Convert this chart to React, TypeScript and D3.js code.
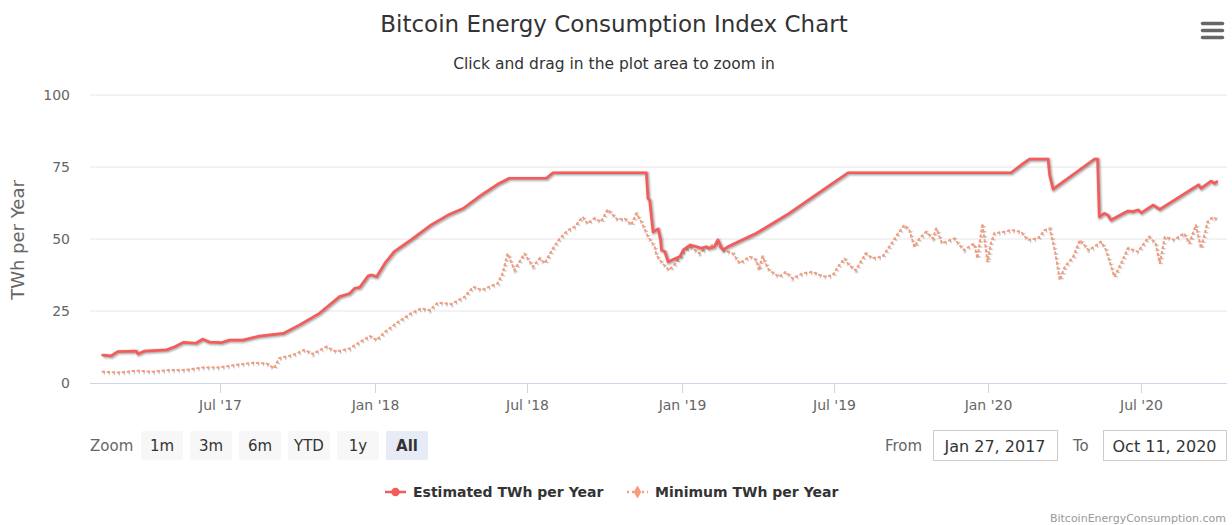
import React, { useEffect, useRef } from "react";
import * as d3 from "d3";

// Estimated TWh per Year
const estimatedSeries: [string, number][] = [
  ["2017-02-11", 9.7], ["2017-02-21", 9.4], ["2017-03-01", 10.9], ["2017-03-23", 11.1],
  ["2017-03-25", 10.1], ["2017-04-02", 11.1], ["2017-04-28", 11.5], ["2017-05-08", 12.6],
  ["2017-05-18", 14.1], ["2017-06-02", 13.8], ["2017-06-10", 15.2], ["2017-06-18", 14.2],
  ["2017-07-02", 14.0], ["2017-07-12", 14.9], ["2017-07-28", 14.9], ["2017-08-17", 16.3],
  ["2017-09-14", 17.2], ["2017-10-03", 20.1], ["2017-10-27", 24.2], ["2017-11-20", 30.0],
  ["2017-12-02", 31.1], ["2017-12-08", 32.9], ["2017-12-14", 33.2], ["2017-12-24", 37.2],
  ["2017-12-28", 37.5], ["2018-01-03", 36.9], ["2018-01-13", 41.6], ["2018-01-24", 45.6],
  ["2018-02-13", 49.7], ["2018-03-09", 54.9], ["2018-03-29", 58.3], ["2018-04-16", 60.6],
  ["2018-05-08", 65.3], ["2018-05-27", 69.0], ["2018-06-10", 71.1], ["2018-07-24", 71.1],
  ["2018-08-01", 73.0], ["2018-11-20", 73.0], ["2018-11-22", 64.1], ["2018-11-24", 63.5],
  ["2018-11-28", 52.5], ["2018-12-04", 53.5], ["2018-12-07", 49.7], ["2018-12-08", 46.2],
  ["2018-12-12", 45.6], ["2018-12-16", 42.1], ["2018-12-30", 43.9], ["2019-01-03", 46.2],
  ["2019-01-11", 47.9], ["2019-01-19", 47.3], ["2019-01-24", 46.8], ["2019-01-30", 47.3],
  ["2019-02-03", 46.8], ["2019-02-09", 47.3], ["2019-02-13", 49.7], ["2019-02-17", 47.3],
  ["2019-02-19", 46.2], ["2019-02-25", 47.3], ["2019-03-31", 52.0], ["2019-05-09", 58.9],
  ["2019-06-18", 67.0], ["2019-07-18", 73.0], ["2020-01-28", 73.0], ["2020-02-09", 75.7],
  ["2020-02-19", 77.7], ["2020-03-12", 77.7], ["2020-03-14", 72.2], ["2020-03-18", 67.3],
  ["2020-05-06", 77.7], ["2020-05-10", 77.7], ["2020-05-12", 57.7], ["2020-05-18", 58.9],
  ["2020-05-22", 58.3], ["2020-05-26", 56.6], ["2020-06-15", 59.7], ["2020-06-21", 59.5],
  ["2020-06-27", 60.1], ["2020-07-01", 59.1], ["2020-07-15", 61.8], ["2020-07-23", 60.3],
  ["2020-09-07", 68.8], ["2020-09-10", 67.6], ["2020-09-22", 70.1], ["2020-09-26", 69.3],
  ["2020-09-29", 69.9],
];

// Minimum TWh per Year
const minimumSeries: [string, number][] = [
  ["2017-02-11", 3.9], ["2017-03-03", 3.6], ["2017-03-23", 4.3], ["2017-04-11", 3.9],
  ["2017-05-01", 4.5], ["2017-05-21", 4.5], ["2017-06-10", 5.4], ["2017-06-30", 5.4],
  ["2017-07-20", 6.3], ["2017-08-09", 7.0], ["2017-08-25", 6.8], ["2017-09-03", 5.1],
  ["2017-09-09", 8.6], ["2017-09-25", 9.7], ["2017-10-09", 11.5], ["2017-10-19", 10.1],
  ["2017-11-04", 12.6], ["2017-11-16", 10.9], ["2017-12-02", 12.0], ["2017-12-18", 14.9],
  ["2017-12-26", 16.3], ["2018-01-03", 14.9], ["2018-01-13", 17.8], ["2018-01-29", 21.3],
  ["2018-02-13", 24.2], ["2018-02-25", 25.9], ["2018-03-07", 25.3], ["2018-03-17", 27.9],
  ["2018-04-02", 27.4], ["2018-04-18", 30.0], ["2018-04-28", 33.4], ["2018-05-08", 32.3],
  ["2018-05-27", 34.6], ["2018-06-02", 38.1], ["2018-06-08", 45.0], ["2018-06-16", 39.2],
  ["2018-06-28", 45.0], ["2018-07-08", 40.4], ["2018-07-16", 43.3], ["2018-07-22", 41.6],
  ["2018-08-01", 46.8], ["2018-08-09", 50.2], ["2018-08-19", 53.1], ["2018-08-27", 54.3],
  ["2018-09-05", 57.7], ["2018-09-11", 55.4], ["2018-09-19", 57.2], ["2018-09-27", 56.0],
  ["2018-10-05", 60.3], ["2018-10-17", 56.6], ["2018-10-25", 57.2], ["2018-11-02", 54.9],
  ["2018-11-08", 58.9], ["2018-11-14", 56.0], ["2018-11-22", 50.8], ["2018-11-30", 47.3],
  ["2018-12-02", 44.4], ["2018-12-09", 41.6], ["2018-12-17", 39.2], ["2018-12-25", 41.6],
  ["2019-01-03", 45.6], ["2019-01-11", 47.3], ["2019-01-22", 45.0], ["2019-01-30", 46.8],
  ["2019-02-11", 48.5], ["2019-02-19", 46.2], ["2019-03-03", 45.0], ["2019-03-11", 41.6],
  ["2019-03-23", 43.9], ["2019-03-31", 42.7], ["2019-04-03", 39.2], ["2019-04-07", 43.9],
  ["2019-04-15", 39.2], ["2019-04-27", 36.9], ["2019-05-05", 38.6], ["2019-05-13", 36.3],
  ["2019-05-25", 38.1], ["2019-06-06", 38.6], ["2019-06-14", 37.5], ["2019-06-22", 36.9],
  ["2019-06-30", 37.5], ["2019-07-06", 40.4], ["2019-07-14", 43.3], ["2019-07-19", 41.0],
  ["2019-07-27", 39.2], ["2019-08-08", 45.0], ["2019-08-16", 43.3], ["2019-08-28", 43.9],
  ["2019-09-05", 47.3], ["2019-09-13", 50.8], ["2019-09-23", 54.9], ["2019-09-29", 53.1],
  ["2019-10-05", 47.3], ["2019-10-11", 50.2], ["2019-10-19", 52.5], ["2019-10-27", 50.2],
  ["2019-10-31", 53.7], ["2019-11-07", 48.5], ["2019-11-21", 50.2], ["2019-12-03", 46.2],
  ["2019-12-15", 48.5], ["2019-12-19", 43.3], ["2019-12-25", 55.4], ["2019-12-31", 42.1],
  ["2020-01-04", 48.5], ["2020-01-08", 52.0], ["2020-01-20", 52.5], ["2020-01-28", 53.1],
  ["2020-02-09", 52.5], ["2020-02-17", 49.7], ["2020-02-29", 50.2], ["2020-03-08", 53.1],
  ["2020-03-14", 53.7], ["2020-03-20", 46.2], ["2020-03-26", 35.8], ["2020-04-01", 40.4],
  ["2020-04-11", 43.9], ["2020-04-19", 49.7], ["2020-04-29", 46.2], ["2020-05-06", 47.3],
  ["2020-05-14", 49.1], ["2020-05-20", 46.2], ["2020-05-30", 36.9], ["2020-06-07", 41.6],
  ["2020-06-15", 46.8], ["2020-06-27", 45.6], ["2020-07-10", 50.8], ["2020-07-18", 48.5],
  ["2020-07-23", 41.6], ["2020-07-29", 50.8], ["2020-08-09", 49.7], ["2020-08-21", 52.0],
  ["2020-08-27", 48.5], ["2020-09-04", 54.9], ["2020-09-10", 46.8], ["2020-09-18", 56.0],
  ["2020-09-24", 57.7], ["2020-09-30", 56.6],
];

const yTicks = [0, 25, 50, 75, 100];
const xTicks = ["2017-07-01", "2018-01-01", "2018-07-01", "2019-01-01", "2019-07-01", "2020-01-01", "2020-07-01"];
const zoomButtons = ["1m", "3m", "6m", "YTD", "1y", "All"];
const rangeStart = "2017-01-27";
const rangeEnd = "2020-10-11";
const seriesNames = ["Estimated TWh per Year", "Minimum TWh per Year"];
const seriesColors = ["#f45b5b", "#f79a7a"];

const FONT = "'DejaVu Sans', sans-serif";
const W = 1232;
const H = 525;

export default function App() {
  const svgRef = useRef<SVGSVGElement | null>(null);

  useEffect(() => {
    if (!svgRef.current) return;
    const svg = d3.select(svgRef.current);
    svg.selectAll("*").remove();

    const parse = d3.timeParse("%Y-%m-%d");
    const fmtTick = d3.timeFormat("%b '%y");
    const fmtRange = d3.timeFormat("%b %d, %Y");

    const plot = { left: 90, right: 1227, top: 95, bottom: 383 };
    const x = d3.scaleTime()
      .domain([parse(rangeStart)!, parse(rangeEnd)!])
      .range([plot.left, plot.right]);
    const y = d3.scaleLinear().domain([0, 100]).range([plot.bottom, plot.top]);

    svg.append("rect").attr("width", W).attr("height", H).attr("fill", "#fff");

    // title + subtitle
    svg.append("text")
      .attr("x", 614).attr("y", 32)
      .attr("text-anchor", "middle")
      .attr("fill", "#333")
      .style("font-size", "23px")
      .text("Bitcoin Energy Consumption Index Chart");
    svg.append("text")
      .attr("x", 614).attr("y", 69)
      .attr("text-anchor", "middle")
      .attr("fill", "#333")
      .style("font-size", "15.5px")
      .text("Click and drag in the plot area to zoom in");

    // export menu icon
    const menu = svg.append("g").attr("transform", "translate(1201,22)");
    [0, 7, 14].forEach((dy) => {
      menu.append("line")
        .attr("x1", 1.5).attr("x2", 21.5)
        .attr("y1", dy + 1.5).attr("y2", dy + 1.5)
        .attr("stroke", "#666").attr("stroke-width", 3.5)
        .attr("stroke-linecap", "round");
    });

    // gridlines
    svg.append("g").selectAll("line")
      .data(yTicks.filter((t) => t > 0))
      .enter().append("line")
      .attr("x1", plot.left).attr("x2", plot.right)
      .attr("y1", (d) => y(d)).attr("y2", (d) => y(d))
      .attr("stroke", "#e6e6e6").attr("stroke-width", 1);

    // y labels
    svg.append("g").selectAll("text")
      .data(yTicks)
      .enter().append("text")
      .attr("x", 70).attr("y", (d) => y(d) + 5)
      .attr("text-anchor", "end")
      .attr("fill", "#666")
      .style("font-size", "14px")
      .text((d) => d);

    svg.append("text")
      .attr("transform", `translate(24,${(plot.top + plot.bottom) / 2 + 1}) rotate(-90)`)
      .attr("text-anchor", "middle")
      .attr("fill", "#666")
      .style("font-size", "18px")
      .text("TWh per Year");

    // x axis
    svg.append("line")
      .attr("x1", plot.left).attr("x2", plot.right)
      .attr("y1", plot.bottom + 0.5).attr("y2", plot.bottom + 0.5)
      .attr("stroke", "#ccd6eb");
    const xt = svg.append("g").selectAll("g")
      .data(xTicks.map((d) => parse(d)!))
      .enter().append("g")
      .attr("transform", (d) => `translate(${Math.round(x(d)) + 0.5},0)`);
    xt.append("line")
      .attr("y1", plot.bottom).attr("y2", plot.bottom + 10)
      .attr("stroke", "#ccd6eb");
    xt.append("text")
      .attr("y", plot.bottom + 27)
      .attr("text-anchor", "middle")
      .attr("fill", "#666")
      .style("font-size", "14px")
      .text((d) => fmtTick(d));

    // series
    const toPts = (s: [string, number][]) => s.map(([d, v]) => [parse(d)!, v] as [Date, number]);
    const line = d3.line<[Date, number]>().x((d) => x(d[0])).y((d) => y(d[1]));
    const drawSeries = (data: [Date, number][], color: string, width: number, dash?: string) => {
      const g = svg.append("g");
      const sh = g.append("g").attr("transform", "translate(1,1)");
      [[width + 4, 0.05], [width + 2, 0.1], [width, 0.15]].forEach(([w, o]) => {
        sh.append("path")
          .attr("d", line(data))
          .attr("fill", "none")
          .attr("stroke", "#000")
          .attr("stroke-opacity", o)
          .attr("stroke-width", w)
          .attr("stroke-linejoin", "round")
          .attr("stroke-dasharray", dash || null);
      });
      g.append("path")
        .attr("d", line(data))
        .attr("fill", "none")
        .attr("stroke", color)
        .attr("stroke-width", width)
        .attr("stroke-linejoin", "round")
        .attr("stroke-linecap", "round")
        .attr("stroke-dasharray", dash || null);
    };
    drawSeries(toPts(minimumSeries), seriesColors[1], 2, "1.5,3.5");
    drawSeries(toPts(estimatedSeries), seriesColors[0], 2.7);

    // range selector buttons
    svg.append("text")
      .attr("x", 90).attr("y", 451)
      .attr("fill", "#666")
      .style("font-size", "15px")
      .text("Zoom");
    const btn = svg.append("g").selectAll("g")
      .data(zoomButtons)
      .enter().append("g")
      .attr("transform", (_, i) => `translate(${141 + i * 49},431)`);
    btn.append("rect")
      .attr("width", 42).attr("height", 29).attr("rx", 2)
      .attr("fill", (d) => (d === "All" ? "#e6ebf5" : "#f7f7f7"));
    btn.append("text")
      .attr("x", 21).attr("y", 20)
      .attr("text-anchor", "middle")
      .attr("fill", "#333")
      .style("font-size", "15px")
      .style("font-weight", (d) => (d === "All" ? "bold" : "normal"))
      .text((d) => d);

    // range inputs
    const inputs = [
      { label: "From", lx: 885, bx: 933, bw: 124, val: fmtRange(parse(rangeStart)!) },
      { label: "To", lx: 1073, bx: 1103, bw: 123, val: fmtRange(parse(rangeEnd)!) },
    ];
    inputs.forEach((inp) => {
      svg.append("text")
        .attr("x", inp.lx).attr("y", 451)
        .attr("fill", "#666")
        .style("font-size", "15px")
        .text(inp.label);
      svg.append("rect")
        .attr("x", inp.bx + 0.5).attr("y", 430.5)
        .attr("width", inp.bw).attr("height", 30)
        .attr("fill", "#fff").attr("stroke", "#cccccc");
      svg.append("text")
        .attr("x", inp.bx + inp.bw / 2).attr("y", 452)
        .attr("text-anchor", "middle")
        .attr("fill", "#333")
        .style("font-size", "16px")
        .text(inp.val.replace(/ 0(\d),/, " $1,"));
    });

    // legend
    const legend = [
      { name: seriesNames[0], color: seriesColors[0], x: 385, dash: null as string | null, sym: "circle" },
      { name: seriesNames[1], color: seriesColors[1], x: 627, dash: "2,3", sym: "diamond" },
    ];
    legend.forEach((l) => {
      const g = svg.append("g").attr("transform", `translate(${l.x},492)`);
      g.append("line")
        .attr("x1", 0).attr("x2", 21)
        .attr("stroke", l.color).attr("stroke-width", 2.5)
        .attr("stroke-dasharray", l.dash);
      g.append("path")
        .attr("transform", "translate(10.5,0)")
        .attr("d", d3.symbol().type(l.sym === "circle" ? d3.symbolCircle : d3.symbolDiamond).size(l.sym === "circle" ? 55 : 50)())
        .attr("fill", l.color);
      g.append("text")
        .attr("x", 28).attr("y", 5)
        .attr("fill", "#333")
        .style("font-size", "14px")
        .style("font-weight", "bold")
        .text(l.name);
    });

    // credits
    svg.append("text")
      .attr("x", 1226).attr("y", 522)
      .attr("text-anchor", "end")
      .attr("fill", "#999")
      .style("font-size", "11px")
      .text("BitcoinEnergyConsumption.com");
  }, []);

  return (
    <div style={{ position: "absolute", left: 0, top: 0 }}>
      <svg ref={svgRef} width={W} height={H} style={{ display: "block", fontFamily: FONT }} />
    </div>
  );
}
